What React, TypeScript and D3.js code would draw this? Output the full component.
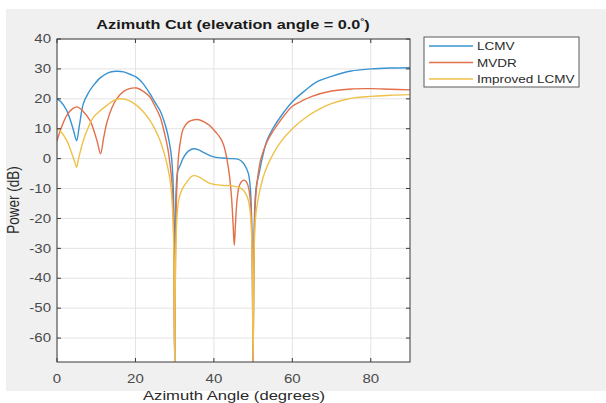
import React from "react";
import * as d3 from "d3";

const xTicks = [0, 20, 40, 60, 80];
const yTicks = [40, 30, 20, 10, 0, -10, -20, -30, -40, -50, -60];
const seriesNames = ["LCMV", "MVDR", "Improved LCMV"];

const lcmvAngles = [0, 1, 2.5, 3.5, 4.3, 5, 5.7, 6.7, 8, 9.3, 11, 13, 15, 17, 19, 20.5, 22, 23.7, 25, 26.3, 27.3, 28, 28.7, 29.2, 29.6, 29.85, 30, 30.15, 30.4, 30.8, 31.4, 32.3, 33.5, 34.8, 36, 37.5, 39, 40.5, 42, 44, 45.8, 47, 48, 48.8, 49.3, 49.7, 50, 50.2, 50.5, 50.9, 51.3, 52.3, 53.5, 55, 57, 60, 63, 66, 70, 75, 80, 85, 90];
const lcmvPower = [20, 19, 16, 12.5, 9, 6, 11, 18.3, 22, 24.5, 27, 28.7, 29.2, 29, 28, 27, 25, 21.7, 18.8, 16, 12.5, 9.4, 5, 0.4, -8, -25, -68, -25, -10, -4, -2.3, 0.5, 2.5, 3.3, 3, 2, 1, 0.4, 0.2, 0, -0.1, -0.8, -2.5, -5, -10, -25, -68, -30, -14, -8.5, -6.3, 0, 6, 10, 14, 19, 22.5, 25.5, 27.5, 29.3, 30, 30.3, 30.4];

const mvdrAngles = [0, 1, 2.5, 4, 5.2, 6.5, 8.4, 9.5, 10.3, 11.1, 11.9, 12.7, 14, 15.2, 17, 18.7, 20.3, 22, 23.7, 25, 26.3, 27.5, 28.3, 28.8, 29.3, 29.7, 30, 30.3, 30.6, 31, 31.5, 32.2, 33.5, 35, 36.2, 37.5, 39, 40.5, 41.6, 42.5, 43.3, 44, 44.5, 44.9, 45.2, 45.5, 45.9, 46.5, 47.2, 47.7, 48.3, 48.9, 49.4, 49.75, 50, 50.25, 50.6, 51.2, 52, 53.5, 55, 57, 60, 62, 65, 70, 75, 80, 85, 90];
const mvdrPower = [6, 10, 14.5, 16.7, 17.3, 16, 12.8, 9, 5.5, 1.6, 7, 12, 17, 20, 22.5, 23.5, 23.6, 22.5, 20.6, 17.5, 13.9, 8, 3, -1.7, -8, -22, -68, -22, -8, 1, 6, 10, 12.3, 13, 13, 12.3, 11, 8.8, 7, 4.5, 0, -6, -13, -22, -29, -22, -14, -9, -7.5, -7.2, -7.8, -10, -16, -30, -68, -30, -14, -6, 0, 5.5, 9, 12.8, 17.5, 19, 20.8, 22.6, 23.3, 23.4, 23.2, 23];

const improvedAngles = [0, 1, 2.5, 3.7, 4.5, 5, 5.5, 6.7, 8, 9.3, 11, 12.7, 14.3, 15.9, 17.5, 19, 20.3, 22, 23.7, 25, 26.3, 27.4, 28.4, 29, 29.5, 29.8, 30, 30.2, 30.5, 30.9, 31.5, 32.2, 33, 34, 34.8, 36, 37.5, 39, 40.5, 42.4, 44, 45, 46.7, 47.8, 48.8, 49.4, 49.75, 50, 50.25, 50.6, 51.2, 52, 53, 54.5, 57, 60, 63.7, 66.5, 69.6, 73, 76, 80, 85, 90];
const improvedPower = [10, 9, 6, 2, -1, -2.9, 0, 6, 10.5, 13.9, 16, 17.8, 19.3, 20, 19.8, 19, 17.8, 15.7, 12.8, 9.8, 6, 1.5, -4, -9, -18, -32, -68, -35, -22, -15, -11.5, -9.5, -8, -6.3, -5.7, -6, -7.2, -8.3, -8.7, -9, -9, -9.2, -9.8, -11, -14, -20, -32, -68, -32, -20, -14, -9, -4.5, 0, 5.5, 10, 14, 16.3, 18.2, 19.6, 20.4, 20.8, 21.2, 21.4];

const colors = ["#3a93d1", "#e2704b", "#efc14a"];

function SText(props: { x: number; y: number; size: number; anchor?: string; weight?: string; fill?: string; children: React.ReactNode }) {
  return (
    <text
      transform={`translate(${props.x},${props.y}) scale(1.25,1)`}
      textAnchor={props.anchor || "start"}
      fontSize={props.size}
      fontWeight={props.weight || "normal"}
      fill={props.fill || "#4a4a4a"}
    >
      {props.children}
    </text>
  );
}

export default function App() {
  const W = 606, H = 403;
  const left = 57, right = 410, top = 39, bottom = 362;
  const x = d3.scaleLinear().domain([0, 90]).range([left, right]);
  const y = d3.scaleLinear().domain([-68, 40]).range([bottom, top]);
  const line = d3
    .line<[number, number]>()
    .x((d) => x(d[0]))
    .y((d) => y(d[1]))
    .curve(d3.curveCatmullRom.alpha(0.5));
  const series = [
    { a: lcmvAngles, p: lcmvPower },
    { a: mvdrAngles, p: mvdrPower },
    { a: improvedAngles, p: improvedPower },
  ];
  const font = "Liberation Sans, Arial, Helvetica, sans-serif";
  return (
    <svg width={W} height={H} style={{ position: "absolute", left: 0, top: 0 }} fontFamily={font}>
      <rect x={0} y={0} width={W} height={H} fill="#ffffff" />
      <rect x={6} y={9} width={W - 6} height={382} fill="#f0f0f0" />
      <rect x={left} y={top} width={right - left} height={bottom - top} fill="#ffffff" />
      <defs>
        <clipPath id="plotclip">
          <rect x={left} y={top} width={right - left} height={bottom - top} />
        </clipPath>
      </defs>
      {xTicks.map((t) => (
        <line key={"gx" + t} x1={x(t)} x2={x(t)} y1={top} y2={bottom} stroke="#e3e3e3" strokeWidth={1} />
      ))}
      {yTicks.map((t) => (
        <line key={"gy" + t} x1={left} x2={right} y1={y(t)} y2={y(t)} stroke="#e3e3e3" strokeWidth={1} />
      ))}
      <g clipPath="url(#plotclip)">
        {series.map((s, i) => (
          <path
            key={i}
            d={line(s.a.map((v, j) => [v, s.p[j]] as [number, number])) || ""}
            fill="none"
            stroke={colors[i]}
            strokeWidth={1.4}
          />
        ))}
      </g>
      <rect x={left} y={top} width={right - left} height={bottom - top} fill="none" stroke="#3a3a3a" strokeWidth={1} />
      {xTicks.map((t) => (
        <g key={"tx" + t}>
          <line x1={x(t)} x2={x(t)} y1={bottom} y2={bottom - 4} stroke="#3a3a3a" />
          <line x1={x(t)} x2={x(t)} y1={top} y2={top + 4} stroke="#3a3a3a" />
          <SText x={x(t)} y={383} size={12} anchor="middle">
            {t}
          </SText>
        </g>
      ))}
      {yTicks.map((t) => (
        <g key={"ty" + t}>
          <line x1={left} x2={left + 4} y1={y(t)} y2={y(t)} stroke="#3a3a3a" />
          <line x1={right} x2={right - 4} y1={y(t)} y2={y(t)} stroke="#3a3a3a" />
          <SText x={51} y={y(t) + 4.2} size={12} anchor="end">
            {t}
          </SText>
        </g>
      ))}
      <SText x={233} y={29} size={13} anchor="middle" weight="bold" fill="#1a1a1a">
        Azimuth Cut (elevation angle = 0.0
        <tspan dy={-5} fontSize={8}>°</tspan>
        <tspan dy={5}>)</tspan>
      </SText>
      <SText x={234} y={400} size={13.3} anchor="middle" fill="#2a2a2a">
        Azimuth Angle (degrees)
      </SText>
      <text transform="translate(19,200) rotate(-90) scale(1,1.25)" textAnchor="middle" fontSize={13.5} fill="#2a2a2a">
        Power (dB)
      </text>
      <rect x={424} y={37} width={155} height={50} fill="#ffffff" stroke="#5a5a5a" strokeWidth={1} />
      {seriesNames.map((n, i) => (
        <g key={n}>
          <line x1={429} x2={473} y1={46 + i * 16.5} y2={46 + i * 16.5} stroke={colors[i]} strokeWidth={1.4} />
          <SText x={477} y={50 + i * 16.5} size={10.8} fill="#2a2a2a">
            {n}
          </SText>
        </g>
      ))}
    </svg>
  );
}
